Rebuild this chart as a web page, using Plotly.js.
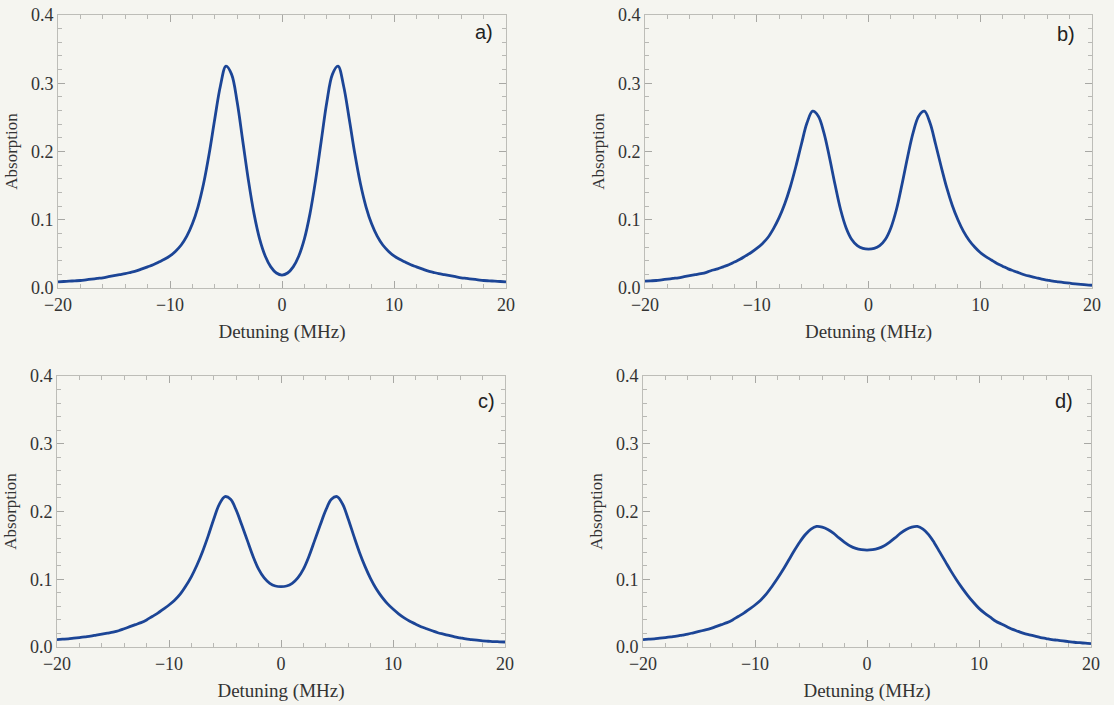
<!DOCTYPE html>
<html>
<head>
<meta charset="utf-8">
<script src="https://cdn.plot.ly/plotly-3.0.1.min.js"></script>
<style>html,body{margin:0;padding:0;background:#f5f5f0;}#chart{width:1114px;height:705px;}</style>
</head>
<body>
<div id="chart"></div>
<script>
// Detuning sample points (MHz)
const detuning = [-20,-19.5,-19,-18.5,-18,-17.5,-17,-16.5,-16,-15.5,-15,-14.5,-14,-13.5,-13,-12.5,-12,-11.5,-11,-10.5,-10,
  -9.5,-9,-8.5,-8,-7.5,-7,-6.5,-6,-5.5,-5,-4.5,-4,-3.5,-3,-2.5,-2,-1.5,-1,-0.5,0,
  0.5,1,1.5,2,2.5,3,3.5,4,4.5,5,5.5,6,6.5,7,7.5,8,8.5,9,9.5,
  10,10.5,11,11.5,12,12.5,13,13.5,14,14.5,15,15.5,16,16.5,17,17.5,18,18.5,19,19.5,20];

// Absorption
const absA = [0.009,0.0095,0.010,0.0105,0.011,0.012,0.013,0.014,0.015,0.0165,0.018,0.0195,0.021,0.023,0.025,0.028,0.031,0.034,0.038,0.042,0.047,
  0.054,0.063,0.076,0.094,0.119,0.153,0.197,0.248,0.296,0.325,0.313,0.272,0.215,0.158,0.109,0.072,0.047,0.031,0.022,
  0.019,
  0.022,0.031,0.047,0.072,0.109,0.158,0.215,0.272,0.313,0.325,0.296,0.248,0.197,0.153,0.119,0.094,0.076,0.063,0.054,
  0.047,0.042,0.038,0.034,0.031,0.028,0.025,0.023,0.021,0.0195,0.018,0.0165,0.015,0.014,0.013,0.012,0.011,0.0105,0.010,0.0095,0.009];
const absB = [0.010,0.0105,0.011,0.012,0.013,0.014,0.015,0.0165,0.018,0.0195,0.021,0.023,0.026,0.028,0.031,0.034,0.038,0.042,0.047,0.052,0.058,
  0.065,0.074,0.087,0.103,0.123,0.148,0.178,0.211,0.242,0.259,0.252,0.228,0.192,0.152,0.115,0.088,0.071,0.062,0.058,
  0.057,
  0.058,0.062,0.071,0.088,0.115,0.152,0.192,0.228,0.252,0.259,0.242,0.211,0.178,0.147,0.121,0.100,0.083,0.070,0.060,
  0.052,0.046,0.041,0.036,0.032,0.028,0.025,0.022,0.019,0.017,0.015,0.013,0.0115,0.010,0.009,0.008,0.007,0.006,0.0052,0.0045,0.004];
const absC = [0.011,0.0115,0.012,0.013,0.014,0.015,0.016,0.0175,0.019,0.0205,0.022,0.024,0.027,0.030,0.033,0.036,0.040,0.045,0.050,0.056,0.062,
  0.069,0.078,0.090,0.104,0.121,0.141,0.164,0.189,0.211,0.222,0.218,0.202,0.180,0.157,0.134,0.115,0.102,0.094,0.090,
  0.089,
  0.090,0.094,0.102,0.115,0.134,0.157,0.180,0.202,0.218,0.222,0.211,0.189,0.164,0.140,0.119,0.101,0.086,0.074,0.064,
  0.056,0.049,0.043,0.038,0.034,0.030,0.027,0.024,0.021,0.019,0.017,0.015,0.0135,0.012,0.011,0.010,0.009,0.0085,0.008,0.0077,0.0074];
const absD = [0.011,0.0115,0.012,0.013,0.014,0.015,0.016,0.0175,0.019,0.021,0.023,0.025,0.027,0.030,0.033,0.036,0.040,0.045,0.050,0.056,0.062,
  0.069,0.078,0.089,0.101,0.114,0.128,0.142,0.155,0.166,0.174,0.178,0.177,0.1735,0.168,0.161,0.1545,0.149,0.1455,0.1437,
  0.143,
  0.1437,0.1455,0.149,0.1545,0.161,0.168,0.1735,0.177,0.178,0.174,0.166,0.154,0.140,0.126,0.112,0.099,0.087,0.076,0.066,
  0.057,0.050,0.044,0.038,0.034,0.030,0.026,0.023,0.020,0.018,0.016,0.014,0.0125,0.011,0.010,0.009,0.008,0.007,0.0063,0.0056,0.005];

const panelLabels = ['a)','b)','c)','d)'];
const series = [absA, absB, absC, absD];

const W = 1114, H = 705;
// plot boxes in pixels [left,right,top,bottom]
const boxes = [[58,506,15,288],[645,1092,15,288],[57,505,376,647],[643,1091,376,647]];
const labelPos = [[484,32],[1066,34],[486,401],[1064,401]];

const serif = 'Liberation Serif, Times New Roman, serif';
const lineColor = '#1c4596';
const frameColor = '#bdbdb8';

const traces = [];
const layout = {
  width: W, height: H,
  margin: {l:0,r:0,t:0,b:0},
  paper_bgcolor: '#f5f5f0',
  plot_bgcolor: '#f5f5f0',
  showlegend: false,
  annotations: []
};

series.forEach((ys, i) => {
  const n = i === 0 ? '' : String(i + 1);
  traces.push({
    x: detuning, y: ys, type: 'scatter', mode: 'lines',
    xaxis: 'x' + n, yaxis: 'y' + n,
    line: {color: lineColor, width: 2.8, shape: 'spline', smoothing: 1},
    hoverinfo: 'skip'
  });
  const b = boxes[i];
  layout['xaxis' + n] = {
    domain: [b[0] / W, b[1] / W],
    anchor: 'y' + n,
    range: [-20, 20],
    tickvals: [-20, -10, 0, 10, 20],
    ticks: 'inside', ticklen: 7, tickwidth: 1, tickcolor: '#a8a8a4',
    minor: {dtick: 2, ticks: 'inside', ticklen: 4, tickcolor: '#b8b8b4', showgrid: false},
    showline: true, linecolor: frameColor, linewidth: 1, mirror: 'allticks',
    showgrid: false, zeroline: false,
    tickfont: {family: serif, size: 18, color: '#333'},
    title: {text: 'Detuning (MHz)', font: {family: serif, size: 19, color: '#333'}, standoff: 11}
  };
  layout['yaxis' + n] = {
    domain: [1 - b[3] / H, 1 - b[2] / H],
    anchor: 'x' + n,
    range: [0, 0.4],
    tickvals: [0, 0.1, 0.2, 0.3, 0.4],
    tickformat: '.1f',
    ticks: 'inside', ticklen: 7, tickwidth: 1, tickcolor: '#a8a8a4',
    minor: {dtick: 0.02, ticks: 'inside', ticklen: 4, tickcolor: '#b8b8b4', showgrid: false},
    showline: true, linecolor: frameColor, linewidth: 1, mirror: 'allticks',
    showgrid: false, zeroline: false,
    tickfont: {family: serif, size: 18, color: '#333'},
    title: {text: 'Absorption', font: {family: serif, size: 17, color: '#333'}, standoff: 8}
  };
  layout.annotations.push({
    text: panelLabels[i], xref: 'paper', yref: 'paper',
    x: labelPos[i][0] / W, y: 1 - labelPos[i][1] / H,
    xanchor: 'center', yanchor: 'middle', showarrow: false,
    font: {family: 'Liberation Sans, Arial, sans-serif', size: 20, color: '#222'}
  });
});

Plotly.newPlot('chart', traces, layout, {displayModeBar: false, staticPlot: true});
</script>
</body>
</html>
